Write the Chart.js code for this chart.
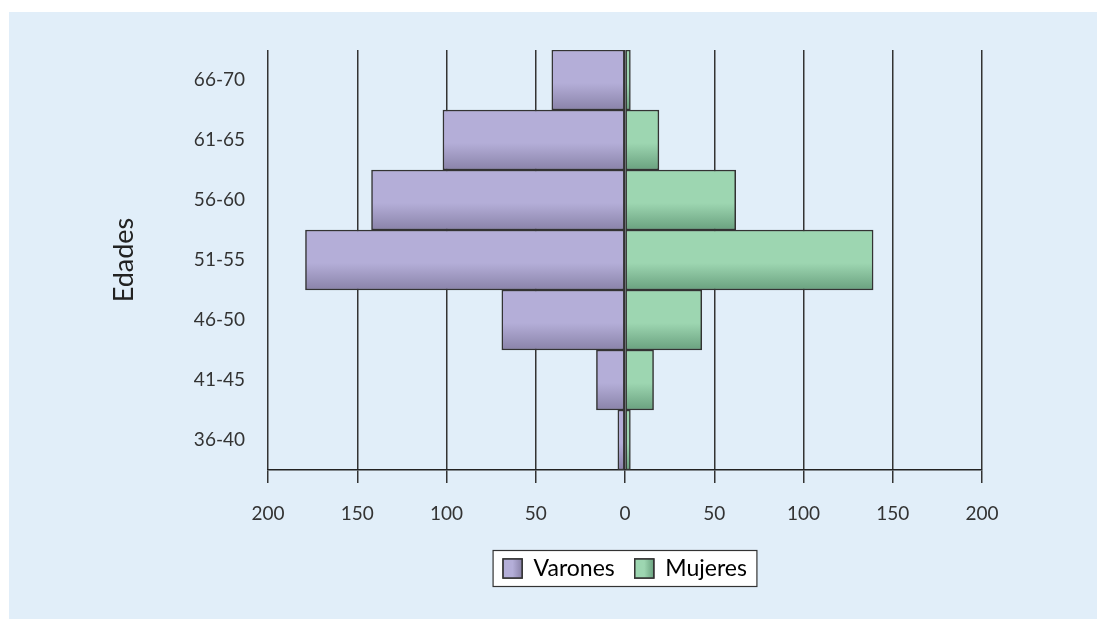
<!DOCTYPE html>
<html>
<head>
<meta charset="utf-8">
<script src="https://cdn.jsdelivr.net/npm/chart.js@4.4.0/dist/chart.umd.min.js"></script>
<style>
  html, body { margin: 0; padding: 0; background: #fff; }
  #wrap { width: 1097px; height: 619px; }
</style>
</head>
<body>
<div id="wrap"><canvas id="graph"></canvas></div>
<script>
// age groups, top to bottom
const edades = ['66-70', '61-65', '56-60', '51-55', '46-50', '41-45', '36-40'];
// men on the left (negative), women on the right
const varones = [-41, -102, -142, -179, -69, -16, -4];
const mujeres = [3, 19, 62, 139, 43, 16, 3];
const xTicks = [-200, -150, -100, -50, 0, 50, 100, 150, 200];

const fontFam = 'Lato, "Open Sans", sans-serif';

// vertical gradient for every bar, light top -> dark bottom
function barFill(light, dark) {
  return function (ctx) {
    const chart = ctx.chart;
    const y = chart.scales.y;
    if (!y || ctx.dataIndex === undefined) return light;
    const c = y.getPixelForValue(ctx.dataIndex);
    const half = Math.abs(y.getPixelForValue(1) - y.getPixelForValue(0)) / 2;
    const g = chart.ctx.createLinearGradient(0, c - half, 0, c + half);
    g.addColorStop(0, light);
    g.addColorStop(0.55, light);
    g.addColorStop(1, dark);
    return g;
  };
}

const colors = [
  { light: '#b4aed8', dark: '#8a83a9' },
  { light: '#9dd6b1', dark: '#6aa17f' }
];

// light blue panel behind everything
const panel = {
  id: 'panel',
  beforeDraw(chart) {
    const c = chart.ctx;
    c.save();
    c.fillStyle = '#ffffff';
    c.fillRect(0, 0, chart.width, chart.height);
    c.fillStyle = '#e1eef9';
    c.fillRect(9, 12, chart.width - 9, chart.height - 12);
    c.restore();
  }
};

// centre the legend under the plot area instead of the whole canvas
const legendShift = {
  id: 'legendShift',
  afterLayout(chart) {
    const lg = chart.legend;
    if (!lg || !lg.legendHitBoxes) return;
    const mid = (chart.chartArea.left + chart.chartArea.right) / 2;
    const d = mid - (lg.left + lg.right) / 2;
    lg.left += d;
    lg.right += d;
    lg.legendHitBoxes.forEach(h => { h.left += d; });
  }
};

// white framed box round the legend, with gradient swatches
const legendFrame = {
  id: 'legendFrame',
  beforeDraw(chart) {
    const boxes = chart.legend.legendHitBoxes;
    if (!boxes || !boxes.length) return;
    const c = chart.ctx;
    const first = boxes[0], last = boxes[boxes.length - 1];
    const cy = first.top + first.height / 2;
    const x0 = first.left - 10, w = last.left + last.width - first.left + 20;
    c.save();
    c.fillStyle = '#ffffff';
    c.strokeStyle = '#333';
    c.lineWidth = 1.2;
    c.fillRect(x0, cy - 18, w, 36);
    c.strokeRect(x0, cy - 18, w, 36);
    c.restore();
  },
  afterDraw(chart) {
    const boxes = chart.legend.legendHitBoxes;
    if (!boxes) return;
    const c = chart.ctx;
    boxes.forEach((hb, i) => {
      const s = 19;
      const x = hb.left, y = hb.top + (hb.height - s) / 2;
      const g = c.createLinearGradient(x, 0, x + s, 0);
      g.addColorStop(0, colors[i].light);
      g.addColorStop(0.5, colors[i].light);
      g.addColorStop(1, colors[i].dark);
      c.save();
      c.fillStyle = g;
      c.fillRect(x, y, s, s);
      c.strokeStyle = '#333';
      c.lineWidth = 1.5;
      c.strokeRect(x, y, s, s);
      c.restore();
    });
  }
};

new Chart(document.getElementById('graph'), {
  type: 'bar',
  data: {
    labels: edades,
    datasets: [{
      label: 'Varones',
      data: varones,
      backgroundColor: barFill(colors[0].light, colors[0].dark),
      borderColor: '#333',
      borderWidth: 1.5,
      borderSkipped: false,
      barPercentage: 1,
      categoryPercentage: 1
    }, {
      label: 'Mujeres',
      data: mujeres,
      backgroundColor: barFill(colors[1].light, colors[1].dark),
      borderColor: '#333',
      borderWidth: 1.5,
      borderSkipped: false,
      barPercentage: 1,
      categoryPercentage: 1
    }]
  },
  options: {
    indexAxis: 'y',
    responsive: true,
    maintainAspectRatio: false,
    animation: false,
    layout: { padding: { left: 104, right: 115, top: 50, bottom: 29 } },
    scales: {
      x: {
        stacked: true,
        min: -200,
        max: 200,
        afterBuildTicks: s => { s.ticks = xTicks.map(v => ({ value: v })); },
        afterFit: s => { s.height = 67; },
        grid: { color: '#333', lineWidth: 1.5, tickLength: 13, drawTicks: true },
        border: { display: true, color: '#222', width: 1.5 },
        ticks: {
          callback: v => Math.abs(v),
          font: { family: fontFam, size: 19 },
          color: '#333',
          padding: 19,
          maxRotation: 0
        }
      },
      y: {
        stacked: true,
        afterFit: s => { s.width = 164; },
        grid: { display: false, drawTicks: false },
        border: { display: false },
        ticks: {
          font: { family: fontFam, size: 19 },
          color: '#333',
          padding: 23
        },
        title: {
          display: true,
          text: 'Edades',
          font: { family: fontFam, size: 27 },
          color: '#222'
        }
      }
    },
    plugins: {
      tooltip: { enabled: false },
      legend: {
        position: 'bottom',
        labels: {
          font: { family: fontFam, size: 23 },
          color: '#222',
          boxWidth: 19,
          boxHeight: 19,
          padding: 20,
          generateLabels: chart => chart.data.datasets.map((d, i) => ({
            text: d.label,
            fillStyle: colors[i].light,
            strokeStyle: '#333',
            lineWidth: 1.5,
            datasetIndex: i
          }))
        }
      }
    }
  },
  plugins: [panel, legendShift, legendFrame]
});
</script>
</body>
</html>
